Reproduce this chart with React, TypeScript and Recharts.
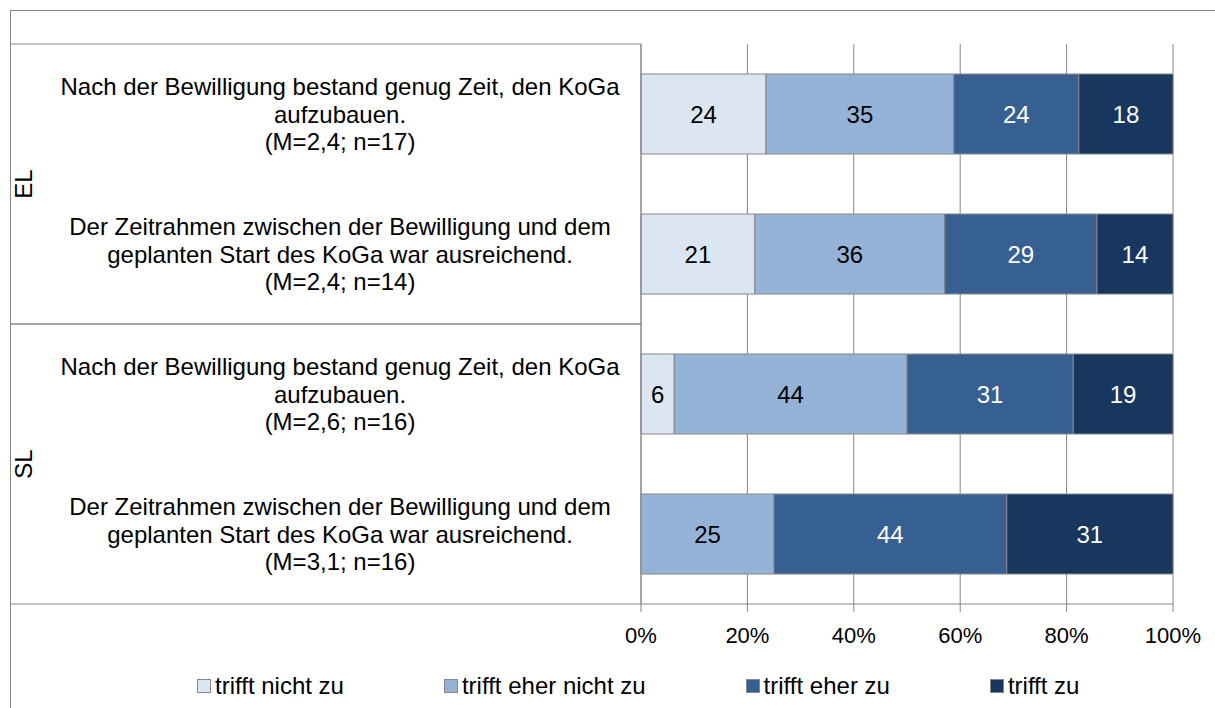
import React from 'react';
import { BarChart, Bar, XAxis, YAxis, CartesianGrid, LabelList } from 'recharts';

const ids = ['el1', 'el2', 'sl1', 'sl2'];
const groups = ['EL', 'EL', 'SL', 'SL'];
const labelLines = [
  ['Nach der Bewilligung bestand genug Zeit, den KoGa', 'aufzubauen.', '(M=2,4; n=17)'],
  ['Der Zeitrahmen zwischen der Bewilligung und dem', 'geplanten Start des KoGa war ausreichend.', '(M=2,4; n=14)'],
  ['Nach der Bewilligung bestand genug Zeit, den KoGa', 'aufzubauen.', '(M=2,6; n=16)'],
  ['Der Zeitrahmen zwischen der Bewilligung und dem', 'geplanten Start des KoGa war ausreichend.', '(M=3,1; n=16)'],
];
const seriesNames = ['trifft nicht zu', 'trifft eher nicht zu', 'trifft eher zu', 'trifft zu'];
const trifftNichtZu = [23.5, 21.4, 6.25, 0];
const trifftEherNichtZu = [35.3, 35.7, 43.75, 25];
const trifftEherZu = [23.5, 28.6, 31.25, 43.75];
const trifftZu = [17.7, 14.3, 18.75, 31.25];
const xTicks = [0, 20, 40, 60, 80, 100];

const colors = ['#DCE6F2', '#95B3D7', '#376092', '#17375E'];
const labelColors = ['#000000', '#000000', '#FFFFFF', '#FFFFFF'];
const GRAY = '#868686';
const FONT = '"Liberation Sans", Arial, sans-serif';

const W = 1215;
const H = 708;
const XAXIS_H = 30;
const M = { top: 44, right: 42, bottom: 74, left: 10 };
const PLOT_LEFT = M.left + 631;
const BAND = (H - M.top - M.bottom - XAXIS_H) / ids.length;

const data = ids.map((id, i) => ({
  id,
  s0: trifftNichtZu[i],
  s1: trifftEherNichtZu[i],
  s2: trifftEherZu[i],
  s3: trifftZu[i],
}));

const CategoryTick = (props: any) => {
  const { y, payload } = props;
  const idx = ids.indexOf(payload.value);
  const lines = labelLines[idx] || [];
  const cx = 340;
  const isGroupStart = idx === 0 || groups[idx] !== groups[idx - 1];
  const isGroupEnd = idx === ids.length - 1 || groups[idx] !== groups[idx + 1];
  return (
    <g>
      {lines.map((ln, k) => (
        <text
          key={k}
          x={cx}
          y={y + (k - 1) * 27.5}
          textAnchor="middle"
          dominantBaseline="central"
          fontSize={24}
          fill="#000"
          fontFamily={FONT}
        >
          {ln}
        </text>
      ))}
      {isGroupStart && (
        <line x1={M.left} x2={PLOT_LEFT} y1={y - BAND / 2} y2={y - BAND / 2} stroke={GRAY} strokeWidth={1} />
      )}
      {isGroupEnd && (
        <line x1={M.left} x2={PLOT_LEFT} y1={y + BAND / 2} y2={y + BAND / 2} stroke={GRAY} strokeWidth={1} />
      )}
      {isGroupStart && (
        <text
          x={23}
          y={y + BAND / 2}
          transform={`rotate(-90 23 ${y + BAND / 2})`}
          textAnchor="middle"
          dominantBaseline="central"
          fontSize={24}
          fill="#000"
          fontFamily={FONT}
        >
          {groups[idx]}
        </text>
      )}
    </g>
  );
};

const fmt = (v: any) => (typeof v === 'number' && v > 0 ? String(Math.round(v)) : '');

export default function App() {
  return (
    <div style={{ position: 'absolute', left: 0, top: 0, width: W, height: H, background: '#fff' }}>
      <div style={{ position: 'absolute', left: 10, top: 10, width: W - 10, height: H - 10, borderTop: `1px solid ${GRAY}`, borderLeft: `1px solid ${GRAY}`, boxSizing: 'border-box' }} />
      <BarChart
        width={W}
        height={H}
        data={data}
        layout="vertical"
        margin={M}
        barSize={80}
        style={{ fontFamily: FONT }}
      >
        <CartesianGrid horizontal={false} vertical={true} stroke={GRAY} strokeWidth={1} />
        <XAxis
          type="number"
          domain={[0, 100]}
          ticks={xTicks}
          height={XAXIS_H}
          tickFormatter={(v: number) => `${v}%`}
          axisLine={{ stroke: GRAY }}
          tickLine={{ stroke: GRAY }}
          tickSize={8}
          tickMargin={15}
          tick={{ fontSize: 22, fill: '#000', fontFamily: FONT }}
          interval={0}
        />
        <YAxis
          type="category"
          dataKey="id"
          width={631}
          axisLine={{ stroke: GRAY }}
          tickLine={false}
          tick={<CategoryTick />}
          interval={0}
        />
        {['s0', 's1', 's2', 's3'].map((k, i) => (
          <Bar
            key={k}
            dataKey={k}
            name={seriesNames[i]}
            stackId="a"
            fill={colors[i]}
            stroke={GRAY}
            strokeWidth={1}
            isAnimationActive={false}
          >
            <LabelList dataKey={k} position="center" fill={labelColors[i]} fontSize={24} fontFamily={FONT} formatter={fmt} />
          </Bar>
        ))}
      </BarChart>
      <div style={{ position: 'absolute', top: 672, left: 0, width: W, display: 'flex', alignItems: 'center', paddingLeft: 197, boxSizing: 'border-box', fontFamily: FONT, fontSize: 24, lineHeight: '28px', color: '#000' }}>
        {seriesNames.map((n, i) => (
          <div key={n} style={{ display: 'flex', alignItems: 'center', marginRight: 100 }}>
            <span style={{ display: 'inline-block', width: 12, height: 12, background: colors[i], border: `1px solid ${GRAY}`, marginRight: 4 }} />
            <span style={{ whiteSpace: 'nowrap' }}>{n}</span>
          </div>
        ))}
      </div>
    </div>
  );
}
